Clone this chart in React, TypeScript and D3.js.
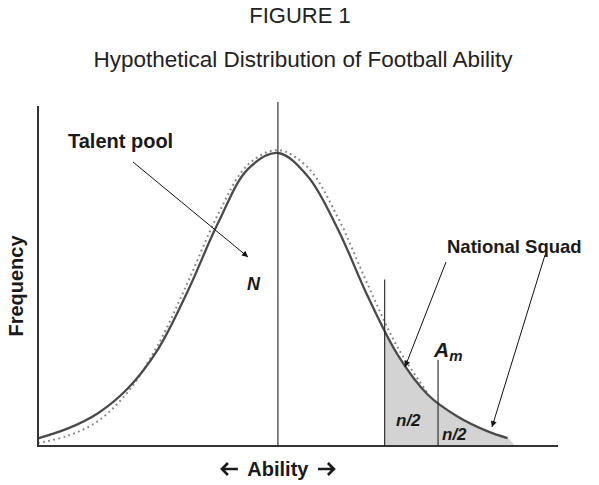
import React from "react";
import * as d3 from "d3";

// ability (standardised units) and relative frequency
const ability = [-4, -3.5, -3, -2.5, -2, -1.5, -1, -0.5, 0, 0.5, 1, 1.5, 2, 2.5, 3, 3.5, 3.83];
const talentPool = [0.026, 0.06, 0.112, 0.197, 0.33, 0.53, 0.76, 0.945, 1.0, 0.92, 0.74, 0.51, 0.31, 0.175, 0.1, 0.05, 0.027];

const normalAbility = [-4, -3.5, -3, -2.5, -2, -1.5, -1, -0.5, 0, 0.5, 1, 1.5, 2, 2.5];
const normalRef = [0.01, 0.035, 0.085, 0.185, 0.345, 0.56, 0.79, 0.96, 1.01, 0.95, 0.78, 0.55, 0.335, 0.18];

const squadCutoff = 1.78; // lower bound of the national squad
const medianSquad = 2.67; // A_m
const shadeEnd = 3.95;

const W = 599;
const H = 485;
const FONT = "'Liberation Sans', Arial, Helvetica, sans-serif";

export default function App() {
  const x = d3.scaleLinear().domain([-4, 4.67]).range([38, 558]);
  const y = d3.scaleLinear().domain([0, 1]).range([446, 153]);

  const solid = ability.map((a, i) => [a, talentPool[i]] as [number, number]);
  const dotted = normalAbility.map((a, i) => [a, normalRef[i]] as [number, number]);

  const line = d3
    .line<[number, number]>()
    .x((d) => x(d[0]))
    .y((d) => y(d[1]))
    .curve(d3.curveCatmullRom.alpha(0.5));

  const area = d3
    .area<[number, number]>()
    .x((d) => x(d[0]))
    .y0(y(0))
    .y1((d) => y(d[1]))
    .curve(d3.curveCatmullRom.alpha(0.5));

  // value of the solid curve at a given ability (linear between read points)
  const at = (a: number) => {
    const i = d3.bisectLeft(ability, a);
    if (i <= 0) return talentPool[0];
    const t = (a - ability[i - 1]) / (ability[i] - ability[i - 1]);
    return talentPool[i - 1] + t * (talentPool[i] - talentPool[i - 1]);
  };

  const shadeData: [number, number][] = [...solid, [shadeEnd, 0]];

  const bold = { fontFamily: FONT, fontWeight: 700, fill: "#1a1a1a" } as const;

  // bold arrows either side of the axis label
  const ay = 469;
  const cx = x(0);
  const arrow = (from: number, to: number) => {
    const dir = Math.sign(to - from);
    return `M${from},${ay} L${to},${ay} M${to - dir * 6},${ay - 6} L${to},${ay} L${to - dir * 6},${ay + 6}`;
  };

  return (
    <svg width={W} height={H} style={{ position: "absolute", left: 0, top: 0, background: "#fff" }}>
      <defs>
        <marker id="head" viewBox="0 0 10 10" refX="10" refY="5" markerWidth="9" markerHeight="6" orient="auto" markerUnits="userSpaceOnUse">
          <path d="M0,0 L10,5 L0,10 z" fill="#111" />
        </marker>
        <clipPath id="squad">
          <rect x={x(squadCutoff)} y={0} width={W} height={y(0)} />
        </clipPath>
      </defs>

      <text x={300} y={23} textAnchor="middle" style={{ fontFamily: FONT, fontSize: 22, fill: "#222" }}>
        FIGURE 1
      </text>
      <text x={303} y={67} textAnchor="middle" style={{ fontFamily: FONT, fontSize: 22.5, fill: "#222" }}>
        Hypothetical Distribution of Football Ability
      </text>

      {/* national squad shading */}
      <path d={area(shadeData) ?? ""} fill="#d3d3d3" clipPath="url(#squad)" />

      {/* reference normal */}
      <path d={line(dotted) ?? ""} fill="none" stroke="#858585" strokeWidth={2} strokeDasharray="1.8 3.4" />
      {/* talent pool */}
      <path d={line(solid) ?? ""} fill="none" stroke="#4a4a4a" strokeWidth={2.3} />

      {/* axes */}
      <line x1={x(-4)} x2={x(-4)} y1={106} y2={y(0) + 1} stroke="#333" strokeWidth={2} />
      <line x1={x(-4)} x2={x(4.67)} y1={y(0)} y2={y(0)} stroke="#333" strokeWidth={2} />

      {/* mean, cutoff and median of squad */}
      <line x1={cx} x2={cx} y1={102} y2={y(0)} stroke="#333" strokeWidth={1.2} />
      <line x1={x(squadCutoff)} x2={x(squadCutoff)} y1={y(at(squadCutoff) + 0.17)} y2={y(0)} stroke="#222" strokeWidth={1.1} />
      <line x1={x(medianSquad)} x2={x(medianSquad)} y1={y(at(medianSquad) + 0.145)} y2={y(0)} stroke="#222" strokeWidth={1.1} />

      {/* annotation arrows */}
      <line x1={133} y1={162} x2={248} y2={257} stroke="#111" strokeWidth={1} markerEnd="url(#head)" />
      <line x1={446} y1={262} x2={405} y2={367} stroke="#111" strokeWidth={1} markerEnd="url(#head)" />
      <line x1={545} y1={255} x2={492} y2={427} stroke="#111" strokeWidth={1} markerEnd="url(#head)" />

      <text x={68} y={148} style={{ ...bold, fontSize: 20 }}>Talent pool</text>
      <text x={247} y={290} style={{ ...bold, fontSize: 18, fontStyle: "italic" }}>N</text>
      <text x={447} y={253} style={{ ...bold, fontSize: 18.5 }}>National Squad</text>
      <text x={434} y={357} style={{ ...bold, fontSize: 21, fontStyle: "italic" }}>
        A<tspan dy={4} style={{ fontSize: 15 }}>m</tspan>
      </text>
      <text x={396} y={426} style={{ ...bold, fontSize: 17, fontStyle: "italic" }}>n/2</text>
      <text x={442} y={440} style={{ ...bold, fontSize: 17, fontStyle: "italic" }}>n/2</text>

      <text x={cx} y={476} textAnchor="middle" style={{ ...bold, fontSize: 20 }}>
        Ability
      </text>
      <path d={arrow(cx - 40, cx - 56)} fill="none" stroke="#1a1a1a" strokeWidth={2.6} strokeLinejoin="miter" />
      <path d={arrow(cx + 40, cx + 56)} fill="none" stroke="#1a1a1a" strokeWidth={2.6} strokeLinejoin="miter" />
      <text transform="translate(23,286) rotate(-90)" textAnchor="middle" style={{ ...bold, fontSize: 20 }}>
        Frequency
      </text>
    </svg>
  );
}
